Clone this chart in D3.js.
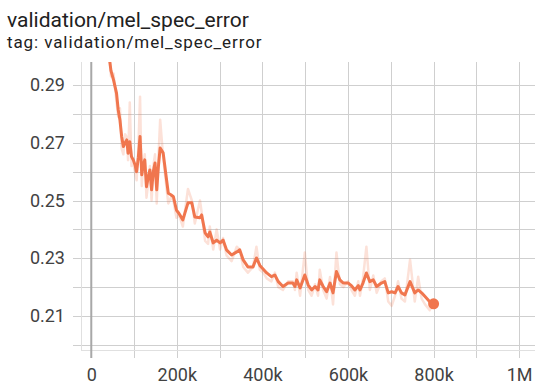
<!DOCTYPE html>
<html><head><meta charset="utf-8">
<script src="https://cdn.jsdelivr.net/npm/d3@7"></script>
<style>
body{margin:0;background:#fff;font-family:Roboto,"Noto Sans",sans-serif;}
svg{display:block}
</style></head>
<body><svg id="c" width="542" height="387"></svg>
<script>
const title = "validation/mel_spec_error";
const subtitle = "tag: validation/mel_spec_error";
const steps = [40e3,46e3,52e3,59e3,63e3,67e3,71e3,75e3,79e3,83e3,86e3,90e3,94e3,98e3,102e3,106e3,110e3,114e3,118e3,121e3,125e3,129e3,133e3,137e3,141e3,145e3,149e3,153e3,157e3,161e3,168e3,176e3,180e3,186e3,192e3,199e3,205e3,214e3,226e3,235e3,242e3,254e3,258e3,266e3,273e3,277e3,285e3,293e3,301e3,308e3,316e3,328e3,340e3,347e3,355e3,366e3,378e3,386e3,394e3,402e3,410e3,421e3,429e3,437e3,448e3,460e3,471e3,476e3,480e3,488e3,499e3,507e3,515e3,523e3,530e3,534e3,542e3,550e3,558e3,565e3,573e3,581e3,589e3,600e3,608e3,616e3,624e3,628e3,635e3,643e3,651e3,659e3,667e3,678e3,686e3,694e3,702e3,710e3,717e3,725e3,733e3,745e3,756e3,764e3,772e3,780e3,791e3,800e3];
const smoothed = [0.302,0.295,0.2918,0.2872,0.2814,0.2779,0.2722,0.2687,0.2700,0.2710,0.2664,0.2704,0.2652,0.2641,0.2625,0.2600,0.2650,0.2722,0.2589,0.2620,0.2641,0.2548,0.2580,0.2606,0.2537,0.2600,0.2630,0.2537,0.2620,0.2682,0.2665,0.2571,0.2525,0.2520,0.2513,0.2467,0.2455,0.2433,0.2492,0.2492,0.2443,0.2440,0.2450,0.2388,0.2374,0.2391,0.2353,0.2363,0.2353,0.2363,0.2329,0.2311,0.2322,0.2329,0.2294,0.2270,0.2270,0.2301,0.2275,0.2262,0.2249,0.2236,0.2242,0.2219,0.2202,0.2214,0.2214,0.2202,0.2225,0.2197,0.2242,0.2207,0.2190,0.2202,0.2190,0.2225,0.2202,0.2184,0.2214,0.2180,0.2254,0.2225,0.2214,0.2214,0.2205,0.2190,0.2205,0.2190,0.2214,0.2249,0.2219,0.2225,0.2202,0.2214,0.2219,0.2180,0.2184,0.2180,0.2202,0.2180,0.2173,0.2219,0.2180,0.2190,0.2180,0.2167,0.2149,0.2142];
const raw = [0.305,0.293,0.294,0.284,0.279,0.282,0.268,0.266,0.273,0.272,0.264,0.284,0.262,0.263,0.260,0.257,0.268,0.286,0.255,0.262,0.266,0.251,0.256,0.262,0.250,0.262,0.266,0.249,0.265,0.278,0.265,0.254,0.249,0.251,0.250,0.244,0.245,0.241,0.254,0.250,0.242,0.250,0.246,0.236,0.235,0.241,0.233,0.240,0.233,0.237,0.231,0.229,0.234,0.233,0.227,0.225,0.227,0.234,0.226,0.225,0.223,0.222,0.225,0.220,0.219,0.222,0.222,0.219,0.225,0.217,0.232,0.219,0.217,0.221,0.217,0.226,0.219,0.216,0.2235,0.214,0.232,0.221,0.220,0.222,0.219,0.217,0.222,0.217,0.223,0.234,0.219,0.224,0.218,0.222,0.223,0.215,0.2135,0.217,0.222,0.216,0.215,0.2295,0.215,0.2236,0.216,0.214,0.212,0.2142];
const yLabelTicks = [0.21,0.23,0.25,0.27,0.29];
const yGridTicks = [0.20,0.21,0.22,0.23,0.24,0.25,0.26,0.27,0.28,0.29];
const xLabelTicks = [0,200e3,400e3,600e3,800e3,1e6];
const xGridTicks = [0,100e3,200e3,300e3,400e3,500e3,600e3,700e3,800e3,900e3,1e6];

const L=81, R=535, T=62, B=350;
const color = "#f0764e";
const svg = d3.select("#c");
const x = d3.scaleLinear().domain([-24000,1037000]).range([L,R]);
const y = d3.scaleLinear().domain([0.1982,0.2980]).range([B,T]);

svg.append("text").attr("x",7).attr("y",27).attr("font-size",21).attr("fill","#212121").text(title);
svg.append("text").attr("x",7).attr("y",48).attr("font-size",17).attr("letter-spacing",0.9).attr("fill","#212121").text(subtitle);

const g = svg.append("g");
g.selectAll(".hg").data(yGridTicks).join("line")
  .attr("x1",73).attr("x2",R).attr("y1",d=>Math.round(y(d))+0.5).attr("y2",d=>Math.round(y(d))+0.5)
  .attr("stroke","#cfcfcf").attr("stroke-width",1);
g.selectAll(".vg").data(xGridTicks.filter(d=>d!==0)).join("line")
  .attr("y1",T).attr("y2",358).attr("x1",d=>Math.round(x(d))+0.5).attr("x2",d=>Math.round(x(d))+0.5)
  .attr("stroke","#cfcfcf").attr("stroke-width",1);
g.append("line").attr("x1",L+0.5).attr("x2",L+0.5).attr("y1",T).attr("y2",B).attr("stroke","#e0e0e0");
g.append("line").attr("x1",L).attr("x2",R).attr("y1",B+0.5).attr("y2",B+0.5).attr("stroke","#e0e0e0");
g.append("line").attr("x1",x(0)).attr("x2",x(0)).attr("y1",T).attr("y2",358).attr("stroke","#a8a8a8").attr("stroke-width",2);

const ya = svg.append("g").attr("transform",`translate(65,0)`)
  .call(d3.axisLeft(y).tickValues(yLabelTicks).tickFormat(d3.format(".2f")).tickSize(0).tickPadding(0));
ya.select(".domain").remove();
ya.selectAll("text").attr("font-family","Roboto").attr("font-size",18).attr("fill","#424242");
const xa = svg.append("g").attr("transform",`translate(0,${B})`)
  .call(d3.axisBottom(x).tickValues(xLabelTicks).tickFormat(d=>d===0?"0":d>=1e6?(d/1e6)+"M":(d/1e3)+"k").tickSize(0).tickPadding(18));
xa.select(".domain").remove();
xa.selectAll("text").attr("font-family","Roboto").attr("font-size",18).attr("fill","#424242");

svg.append("clipPath").attr("id","clip").append("rect").attr("x",L).attr("y",T).attr("width",R-L).attr("height",B-T);
const line = d3.line().x((d,i)=>x(steps[i])).y(d=>y(d));
const pg = svg.append("g").attr("clip-path","url(#clip)");
pg.append("path").datum(raw).attr("d",line).attr("fill","none").attr("stroke",color).attr("stroke-opacity",0.22).attr("stroke-width",2.5).attr("stroke-linejoin","round");
pg.append("path").datum(smoothed).attr("d",line).attr("fill","none").attr("stroke",color).attr("stroke-width",3).attr("stroke-linejoin","round");
const n = steps.length-1;
svg.append("circle").attr("cx",x(steps[n])).attr("cy",y(smoothed[n])).attr("r",5.5).attr("fill",color);
</script></body></html>
